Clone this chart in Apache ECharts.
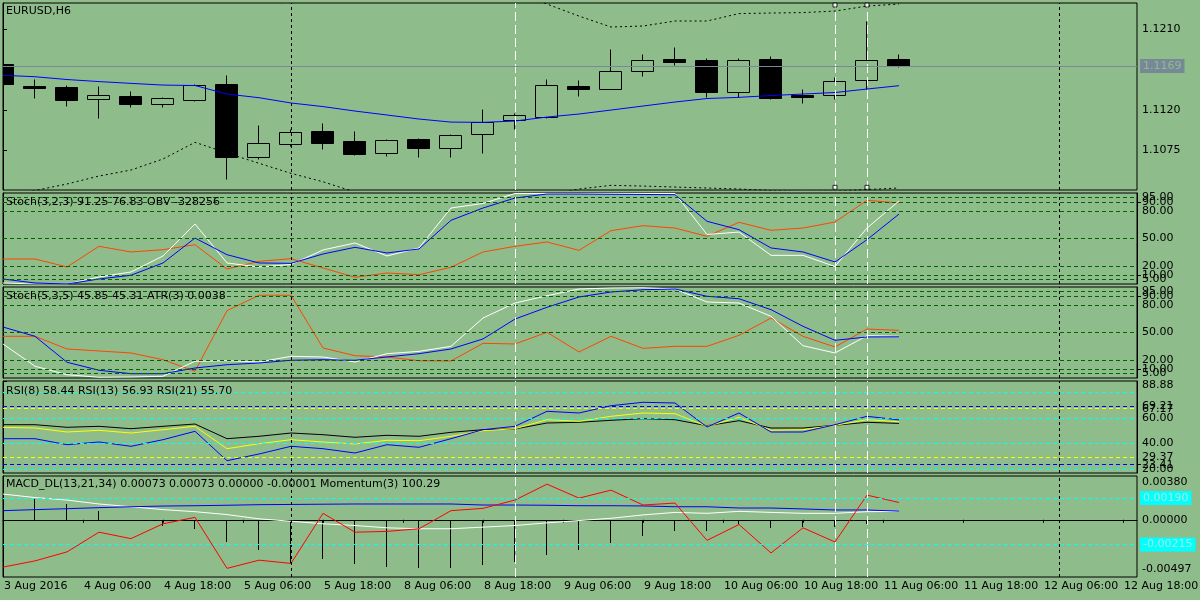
<!DOCTYPE html>
<html>
<head>
<meta charset="utf-8">
<title>EURUSD,H6</title>
<script src="https://cdn.jsdelivr.net/npm/echarts@6/dist/echarts.min.js"></script>
<style>
html, body { margin: 0; padding: 0; background: #8FBC8B; }
#chart { width: 1200px; height: 600px; }
</style>
</head>
<body>
<div id="chart"></div>
<script>
// --- data, one entry per H6 bar (bar 0 = first visible) ---
var timeLabels = ['3 Aug 2016', '4 Aug 06:00', '4 Aug 18:00', '5 Aug 06:00', '5 Aug 18:00',
  '8 Aug 06:00', '8 Aug 18:00', '9 Aug 06:00', '9 Aug 18:00', '10 Aug 06:00', '10 Aug 18:00',
  '11 Aug 06:00', '11 Aug 18:00', '12 Aug 06:00', '12 Aug 18:00'];
var labelStep = 2.5; // bars between two time labels

var opens  = [1.11713, 1.11473, 1.11453, 1.11326, 1.11352, 1.11263, 1.11314, 1.11490, 1.10678, 1.10823,
              1.10965, 1.10853, 1.10723, 1.10876, 1.10772, 1.10928, 1.11084, 1.11125, 1.11464, 1.11437,
              1.11631, 1.11765, 1.11754, 1.11397, 1.11765, 1.11363, 1.11370, 1.11531, 1.11765];
var closes = [1.11490, 1.11456, 1.11314, 1.11363, 1.11270, 1.11330, 1.11475, 1.10678, 1.10828, 1.10951,
              1.10834, 1.10712, 1.10861, 1.10779, 1.10917, 1.11069, 1.11140, 1.11475, 1.11437, 1.11635,
              1.11754, 1.11738, 1.11404, 1.11754, 1.11337, 1.11348, 1.11520, 1.11754, 1.11690];
var lows   = [1.11462, 1.11337, 1.11244, 1.11113, 1.11236, 1.11236, 1.11303, 1.10433, 1.10656, 1.10798,
              1.10764, 1.10703, 1.10689, 1.10678, 1.10678, 1.10723, 1.10984, 1.11107, 1.11359, 1.11430,
              1.11582, 1.11705, 1.11341, 1.11348, 1.11322, 1.11281, 1.11326, 1.11434, 1.11683];
var highs  = [1.11735, 1.11542, 1.11475, 1.11464, 1.11411, 1.11341, 1.11490, 1.11587, 1.11032, 1.10993,
              1.11051, 1.10965, 1.10876, 1.10890, 1.10932, 1.11211, 1.11163, 1.11545, 1.11534, 1.11880,
              1.11824, 1.11902, 1.11776, 1.11776, 1.11802, 1.11430, 1.11564, 1.12196, 1.11824];
var maLine = [1.11587, 1.11571, 1.11540, 1.11517, 1.11497, 1.11478, 1.11473, 1.11378, 1.11337, 1.11278,
              1.11238, 1.11188, 1.11144, 1.11099, 1.11065, 1.11062, 1.11077, 1.11121, 1.11155, 1.11199,
              1.11244, 1.11289, 1.11328, 1.11341, 1.11361, 1.11378, 1.11395, 1.11434, 1.11471];
var bandUp = [null, null, null, null, null, null, null, null, null, null,
              null, null, null, null, null, 1.12762, 1.12516, 1.12382, 1.12248, 1.12126,
              1.12137, 1.12193, 1.12193, 1.12276, 1.12282, 1.12287, 1.12304, 1.12360, 1.12382];
var bandDn = [1.10240, 1.10301, 1.10374, 1.10463, 1.10530, 1.10653, 1.10839, 1.10720, 1.10605, 1.10493,
              1.10399, 1.10284, 1.10206, 1.10162, 1.10139, 1.10150, 1.10184, 1.10251, 1.10318, 1.10359,
              1.10351, 1.10340, 1.10329, 1.10318, 1.10301, 1.10290, 1.10295, 1.10312, 1.10329];
var lastPrice = 1.1169;
var priceTicks = [1.1075, 1.1120, 1.1165, 1.1210];
var priceMin = 1.10307, priceMax = 1.12394;

var stoch1Main   = [1.1, 0, 0, 7.7, 13.2, 30.8, 65.9, 23.1, 18.7, 21.4, 37.4, 45.1, 30.8, 39.6, 83.5,
                    88.5, 99.5, 99.5, 99.5, 99.5, 99.5, 99.5, 54.4, 57.1, 31.5, 31.5, 19.2, 61.5, 91.25];
var stoch1Signal = [5.5, 1.1, 0, 5.5, 9.6, 23.1, 50.5, 32.2, 23.1, 22.7, 33, 40.3, 34.1, 38.5, 70,
                    83.5, 94.5, 98.9, 98.9, 98.6, 98.4, 98.1, 68.9, 59.7, 39.6, 35.2, 24.2, 48.7, 76.83];
var obvLine      = [27.5, 27.5, 18.7, 41.4, 35.2, 37.7, 43.2, 16.5, 24.9, 27.8, 17.6, 7.4, 12.1, 10.2, 18.4,
                    35.2, 41.4, 46.2, 37, 58.6, 64.1, 61.5, 52.4, 67.8, 59, 61.5, 68.1, 92, 89];

var stoch2Main   = [37.4, 12.9, 3.6, 0.8, 1.1, 1.9, 18.4, 19, 17.6, 23.8, 23.1, 17.6, 26.7, 29.3, 34.8,
                    65.9, 82.4, 90.4, 97.8, 98.9, 99.2, 97.8, 83.5, 82.4, 67.8, 35.5, 27.5, 46.5, 45.85];
var stoch2Signal = [56, 45.8, 17.3, 8.5, 4.7, 4.7, 11, 14.6, 16.5, 19.5, 20.1, 19.5, 23.1, 26.7, 31.9,
                    42.9, 64.8, 77.7, 89, 94.5, 97, 97.8, 89.8, 87.1, 75.1, 56.8, 41.4, 45.1, 45.31];
var atrLine      = [45.8, 45.8, 31.9, 29.7, 27.5, 20.1, 7.4, 74, 90.9, 90.9, 33, 24.5, 23.1, 19, 18.7,
                    38.1, 37.4, 50.2, 28.6, 45.8, 32.6, 34.8, 34.8, 46.9, 65.9, 45.8, 34.1, 53.8, 52.4];
var stochLevels = [5, 10, 20, 50, 80, 90, 95];
var stochTicks = [5, 20, 50, 80, 95];
var stochTicksExtra = [10, 90];

var rsi8  = [43.73, 43.73, 39.04, 41.15, 37.78, 42.95, 49.52, 26.52, 31.76, 37.78, 35.91, 32.54, 39.04, 37.0, 43.73,
             50.77, 53.43, 65.17, 63.84, 69.55, 72.21, 71.67, 52.89, 63.84, 48.97, 48.97, 54.69, 61.26, 58.44];
var rsi13 = [52.65, 52.1, 48.97, 50.3, 48.19, 50.77, 53.43, 35.91, 39.82, 42.95, 41.15, 39.58, 42.48, 42.17, 45.61,
             49.99, 51.56, 58.6, 57.35, 61.26, 63.84, 63.29, 53.43, 60.48, 50.3, 50.77, 54.22, 58.6, 56.93];
var rsi21 = [54.69, 54.69, 52.65, 53.43, 51.56, 53.43, 55.23, 43.73, 45.61, 48.19, 46.86, 44.83, 46.39, 45.61, 48.74,
             50.77, 51.32, 56.02, 56.56, 58.13, 59.38, 58.6, 53.9, 57.82, 52.1, 52.1, 54.22, 56.56, 55.70];
var rsiCyanLevels = [20, 40, 60, 80];
var rsiBlueLevels = [23.41, 69.21];
var rsiYellowLevels = [29.37, 67.17];
var rsiTicks = [20, 29.37, 40, 60, 67.17, 69.21, 80, 88.88];
var rsiTicksExtra = [23.41];
var rsiMin = 16.89, rsiMax = 88.88;

var macdMain   = [0.00079, 0.00088, 0.00096, 0.00105, 0.00113, 0.00119, 0.00122, 0.00126, 0.00131, 0.00133,
                  0.00135, 0.00137, 0.00137, 0.00137, 0.00137, 0.00128, 0.00128, 0.00126, 0.00122, 0.00122,
                  0.00120, 0.00113, 0.00113, 0.00102, 0.00102, 0.00094, 0.00085, 0.00085, 0.00075];
var macdSignal = [0.00223, 0.00193, 0.00171, 0.00137, 0.00113, 0.00088, 0.00070, 0.00045, 0.00008, -0.00013,
                  -0.00035, -0.00050, -0.00070, -0.00078, -0.00078, -0.00064, -0.00050, -0.00027, -0.00007, 0.00013,
                  0.00042, 0.00064, 0.00056, 0.00073, 0.00064, 0.00056, 0.00056, 0.00070, 0.00073];
var macdHist   = [0.0021, 0.00182, 0.00139, 0.00076, 0.00002, -0.00053, -0.00082, -0.00191, -0.00262, -0.00374,
                  -0.0034, -0.00383, -0.00406, -0.00423, -0.00421, -0.00391, -0.00363, -0.00305, -0.00262, -0.00199,
                  -0.00142, -0.00096, -0.00096, -0.00039, -0.00071, -0.00067, -0.00067, -0.00033, -0.00001];
var momentum   = [-0.00411, -0.00357, -0.00279, -0.00108, -0.00164, -0.00035, 0.00021, -0.00422, -0.00351, -0.00379,
                  0.00056, -0.00108, -0.00101, -0.00078, 0.00079, 0.00099, 0.00171, 0.00309, 0.00188, 0.00257,
                  0.00128, 0.00145, -0.00179, -0.00041, -0.00288, -0.00070, -0.00193, 0.00214, 0.0015];
var macdLevels = [-0.00215, 0.00190];
var macdTicks = [-0.00497, 0, 0.00380];
var macdMin = -0.00497, macdMax = 0.00380;

var separatorBars = [9, 33];      // black dotted period separators
var markedBars = [16, 26, 27];    // white dashed vertical lines
var handleBars = [26, 27];        // selected lines, handles at both ends
var handlePrices = [1.12371, 1.10337];

// --- look ---
var FONT = 'DejaVu Sans';
var BG = '#8FBC8B';
var XMAX = 35.4375;
var panels = [
  {top: 3, height: 187},
  {top: 193, height: 91},
  {top: 287, height: 91},
  {top: 381, height: 92},
  {top: 476, height: 101}
];

function pairs(arr) {
  return arr.map(function (v, i) { return [i, v]; });
}

function lineSeries(g, arr, color, extra) {
  var s = {
    type: 'line', xAxisIndex: g, yAxisIndex: g, data: pairs(arr),
    symbol: 'none', showSymbol: false, silent: true, animation: false, z: 3,
    lineStyle: {color: color, width: 1}, itemStyle: {color: color}
  };
  if (extra) { for (var k in extra) s[k] = extra[k]; }
  return s;
}

function vlines() {
  var d = [];
  separatorBars.forEach(function (b) {
    d.push({xAxis: b, lineStyle: {color: '#000', type: [3, 3], width: 1}});
  });
  markedBars.forEach(function (b) {
    d.push({xAxis: b, lineStyle: {color: '#fff', type: [9, 4], width: 1}});
  });
  return d;
}

function levels(vals, color) {
  return vals.map(function (v) {
    return {yAxis: v, lineStyle: {color: color, type: [4, 3], width: 1}};
  });
}

function marks(data) {
  return {silent: true, symbol: ['none', 'none'], animation: false, precision: 6,
    label: {show: false}, emphasis: {disabled: true}, data: data};
}

function boxLabel(text, bg, fg) {
  return {show: true, position: 'end', distance: 3, formatter: text,
    color: fg, backgroundColor: bg, padding: [2, 3, 1, 3],
    fontFamily: FONT, fontSize: 11};
}

function renderCandle(params, api) {
  var x = api.value(0), o = api.value(1), c = api.value(2);
  var po = api.coord([x, o]), pc = api.coord([x, c]);
  var pl = api.coord([x, api.value(3)]), ph = api.coord([x, api.value(4)]);
  var w = Math.round(api.size([1, 0])[0] * 0.69);
  var cx = Math.round(po[0]) - 0.5;
  var top = Math.round(Math.min(po[1], pc[1])) + 0.5;
  var bot = Math.round(Math.max(po[1], pc[1])) + 0.5;
  if (bot - top < 2) bot = top + 2;
  var left = cx - Math.floor(w / 2);
  return {type: 'group', children: [
    {type: 'line', shape: {x1: cx, y1: Math.round(ph[1]) + 0.5, x2: cx, y2: top}, style: {stroke: '#000', lineWidth: 1}},
    {type: 'line', shape: {x1: cx, y1: bot, x2: cx, y2: Math.round(pl[1]) + 0.5}, style: {stroke: '#000', lineWidth: 1}},
    {type: 'rect', shape: {x: left, y: top, width: w, height: bot - top},
      style: {fill: c >= o ? 'none' : '#000', stroke: '#000', lineWidth: 1}}
  ]};
}

function renderHist(params, api) {
  var p0 = api.coord([api.value(0), 0]);
  var p1 = api.coord([api.value(0), api.value(1)]);
  var x = Math.round(p0[0]) - 0.5;
  return {type: 'line', shape: {x1: x, y1: Math.round(p0[1]), x2: x, y2: Math.round(p1[1])},
    style: {stroke: '#000', lineWidth: 1}};
}

function yAxisFor(g, min, max, ticks, fmt, rich, showTicks) {
  return {
    type: 'value', gridIndex: g, position: 'right', min: min, max: max,
    splitLine: {show: false},
    axisLine: {show: true, lineStyle: {color: '#000', width: 1}},
    axisTick: {show: showTicks !== false, inside: false, length: 4, customValues: ticks, lineStyle: {color: '#000'}},
    axisLabel: {show: true, customValues: ticks, formatter: fmt, margin: 5, color: '#000',
      fontFamily: FONT, fontSize: 11, showMinLabel: true, showMaxLabel: true,
      hideOverlap: false, rich: rich || {}}
  };
}

var labelValues = timeLabels.map(function (t, k) { return k * labelStep; });

var grids = panels.map(function (p) {
  return {left: 3, right: 63, top: p.top, height: p.height, show: true,
    borderColor: '#000', borderWidth: 1, backgroundColor: 'transparent',
    containLabel: false, outerBoundsMode: 'none'};
});

var xAxes = panels.map(function (p, i) {
  var last = i === panels.length - 1;
  return {
    type: 'value', gridIndex: i, min: 0, max: XMAX, show: last, position: 'bottom',
    splitLine: {show: false},
    axisLine: {show: last, lineStyle: {color: '#000'}},
    axisTick: {show: last, length: 3, customValues: labelValues, lineStyle: {color: '#000'}},
    axisLabel: {show: last, customValues: labelValues, align: 'left', margin: 4, padding: [0, 0, 0, 1],
      color: '#000', fontFamily: FONT, fontSize: 11, showMinLabel: true, showMaxLabel: true,
      hideOverlap: false,
      formatter: function (v) { return timeLabels[Math.round(v / labelStep)] || ''; }}
  };
});

var rsiRich = {t: {padding: [8, 0, 0, 0], fontFamily: FONT, fontSize: 11, color: '#000'}};
var macdRich = {
  t: {padding: [13, 0, 0, 0], fontFamily: FONT, fontSize: 11, color: '#000'},
  b: {padding: [0, 0, 15, 0], fontFamily: FONT, fontSize: 11, color: '#000'}
};
function fix2(v) { return v.toFixed(2); }

var yAxes = [
  yAxisFor(0, priceMin, priceMax, priceTicks, function (v) { return v.toFixed(4); }),
  yAxisFor(1, 0, 100, stochTicks, fix2),
  yAxisFor(2, 0, 100, stochTicks, fix2),
  yAxisFor(3, rsiMin, rsiMax, rsiTicks, function (v) {
    var s = v.toFixed(2);
    return Math.abs(v - rsiMax) < 1e-6 ? '{t|' + s + '}' : s;
  }, rsiRich),
  yAxisFor(4, macdMin, macdMax, macdTicks, function (v) {
    var s = v.toFixed(5);
    if (Math.abs(v - macdMax) < 1e-9) return '{t|' + s + '}';
    if (Math.abs(v - macdMin) < 1e-9) return '{b|' + s + '}';
    return s;
  }, macdRich, false),
  // second label sets, so labels that touch their neighbours are still drawn
  yAxisFor(1, 0, 100, stochTicksExtra, fix2),
  yAxisFor(2, 0, 100, stochTicksExtra, fix2),
  yAxisFor(3, rsiMin, rsiMax, rsiTicksExtra, fix2)
];

var candleData = opens.map(function (o, i) { return [i, o, closes[i], lows[i], highs[i]]; });
var handleData = [];
handleBars.forEach(function (b) {
  handlePrices.forEach(function (p) { handleData.push([b, p]); });
});

var priceMarks = vlines();
priceMarks.push({yAxis: lastPrice, lineStyle: {color: '#778899', type: 'solid', width: 1},
  label: boxLabel(lastPrice.toFixed(4), '#778899', BG)});

var macdMarks = vlines();
macdLevels.forEach(function (v) {
  macdMarks.push({yAxis: v, lineStyle: {color: '#00FFFF', type: [4, 3], width: 1},
    label: boxLabel(v.toFixed(5), '#00FFFF', '#A8E8DC')});
});

var series = [
  // price
  lineSeries(0, bandUp, '#000', {lineStyle: {color: '#000', width: 1, type: [2, 3]}, z: 1, markLine: marks(priceMarks)}),
  lineSeries(0, bandDn, '#000', {lineStyle: {color: '#000', width: 1, type: [2, 3]}, z: 1}),
  {type: 'custom', xAxisIndex: 0, yAxisIndex: 0, renderItem: renderCandle, data: candleData,
    encode: {x: 0, y: [1, 2, 3, 4]}, clip: true, silent: true, animation: false, z: 2},
  lineSeries(0, maLine, '#0000FF'),
  {type: 'scatter', xAxisIndex: 0, yAxisIndex: 0, data: handleData, symbol: 'rect', symbolSize: 4,
    itemStyle: {color: '#fff', borderColor: '#000', borderWidth: 1}, silent: true, animation: false, z: 5},
  // stoch 1 + OBV
  lineSeries(1, obvLine, '#FF4500', {markLine: marks(levels(stochLevels, '#006400').concat(vlines()))}),
  lineSeries(1, stoch1Main, '#FFFFFF'),
  lineSeries(1, stoch1Signal, '#0000FF'),
  // stoch 2 + ATR
  lineSeries(2, atrLine, '#FF4500', {markLine: marks(levels(stochLevels, '#006400').concat(vlines()))}),
  lineSeries(2, stoch2Main, '#FFFFFF'),
  lineSeries(2, stoch2Signal, '#0000FF'),
  // RSI
  lineSeries(3, rsi21, '#000000', {markLine: marks(levels(rsiCyanLevels, '#00FFFF')
    .concat(levels(rsiBlueLevels, '#0000FF')).concat(levels(rsiYellowLevels, '#FFFF00')).concat(vlines()))}),
  lineSeries(3, rsi13, '#FFFF00'),
  lineSeries(3, rsi8, '#0000FF'),
  // MACD + momentum
  {type: 'custom', xAxisIndex: 4, yAxisIndex: 4, renderItem: renderHist, data: pairs(macdHist),
    encode: {x: 0, y: 1}, clip: true, silent: true, animation: false, z: 2},
  lineSeries(4, macdSignal, '#FFFFFF', {markLine: marks(macdMarks)}),
  lineSeries(4, macdMain, '#0000FF'),
  lineSeries(4, momentum, '#FF0000')
];

function panelTitle(text, top) {
  return {text: text, left: 6, top: top, padding: 0,
    textStyle: {fontFamily: FONT, fontSize: 11, fontWeight: 'normal', color: '#000'}};
}

var chart = echarts.init(document.getElementById('chart'));
chart.setOption({
  backgroundColor: BG,
  animation: false,
  title: [
    panelTitle('EURUSD,H6', 6),
    panelTitle('Stoch(3,2,3) 91.25 76.83 OBV -328256', 197),
    panelTitle('Stoch(5,3,5) 45.85 45.31 ATR(3) 0.0038', 291),
    panelTitle('RSI(8) 58.44 RSI(13) 56.93 RSI(21) 55.70', 386),
    panelTitle('MACD_DL(13,21,34) 0.00073 0.00073 0.00000 -0.00001 Momentum(3) 100.29', 479)
  ],
  grid: grids,
  xAxis: xAxes,
  yAxis: yAxes,
  series: series
});
</script>
</body>
</html>
